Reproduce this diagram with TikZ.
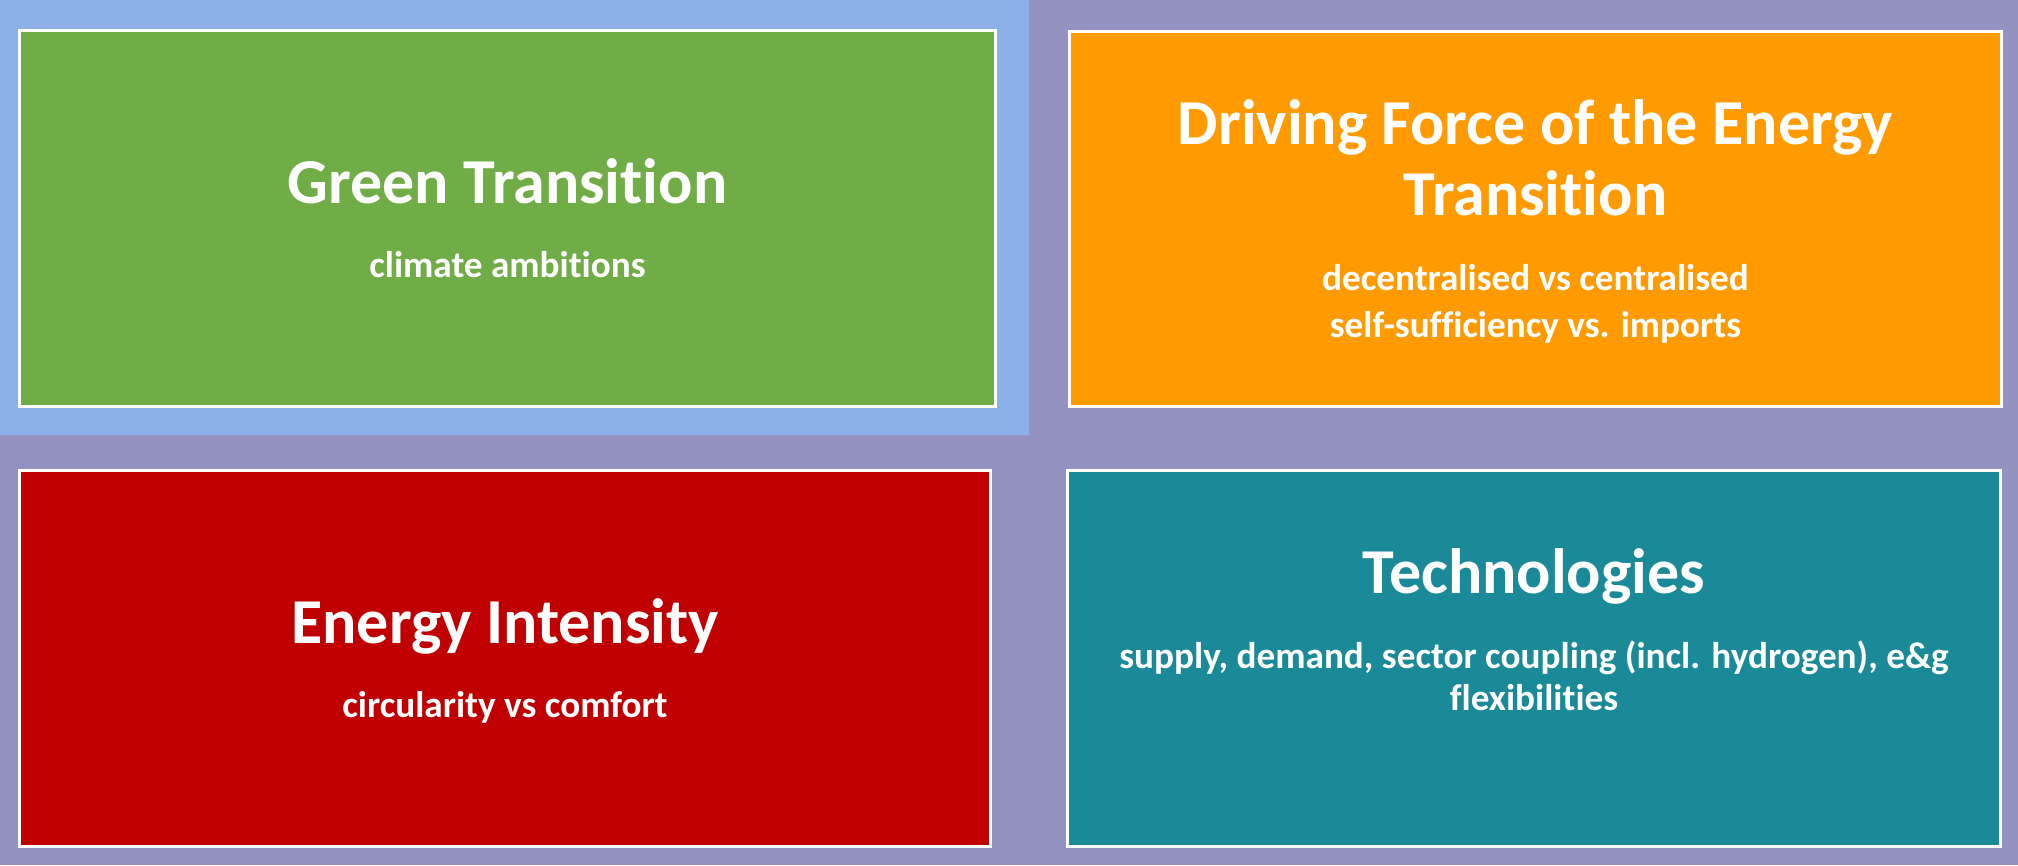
\documentclass[tikz,border=0pt]{standalone}
\usepackage{fontspec}
\setmainfont{Carlito}[Ligatures=NoCommon]
\definecolor{bgpurple}{HTML}{9492C0}
\definecolor{bgblue}{HTML}{8EB0E8}
\definecolor{cgreen}{HTML}{70AD47}
\definecolor{corange}{HTML}{FF9B00}
\definecolor{cred}{HTML}{C00000}
\definecolor{cteal}{HTML}{1A8A99}
\begin{document}
\begin{tikzpicture}[x=0.5bp,y=-0.5bp,
  panel/.style={draw=white,line width=1.5bp,inner sep=0pt},
  title/.style={text=white,anchor=base,inner sep=0pt,align=center,font=\bfseries\fontsize{32bp}{35.5bp}\selectfont},
  sub/.style={text=white,anchor=base,inner sep=0pt,align=center,font=\bfseries\fontsize{18.6bp}{23.5bp}\selectfont}]
\useasboundingbox (0,0) rectangle (2018,865);
\fill[bgpurple] (0,0) rectangle (2018,865);
\fill[bgblue] (0,0) rectangle (1029,435);
\node[panel,fill=cgreen,minimum width=488bp,minimum height=188bp] (green) at (507.5,218.5) {};
\node[panel,fill=corange,minimum width=466bp,minimum height=187.5bp] (orange) at (1535.5,219) {};
\node[panel,fill=cred,minimum width=485.5bp,minimum height=188bp] (red) at (505,658.5) {};
\node[panel,fill=cteal,minimum width=466.5bp,minimum height=188bp] (teal) at (1534,658.5) {};
\node[title] (gt) at (507.5,203) {Green Transition};
\node[sub] (gs) at (507.5,277) {climate ambitions};
\node[title] (ot) at (1535.5,215) {Driving Force of the Energy\\Transition};
\node[sub] (os) at (1535.5,337) {decentralised vs centralised\\self-sufficiency vs. imports};
\node[title] (rt) at (505,643) {Energy Intensity};
\node[sub] (rs) at (505,717) {circularity vs comfort};
\node[title] (tt) at (1534,593) {Technologies};
\node[sub,font=\bfseries\fontsize{18.6bp}{21bp}\selectfont] (ts) at (1534,710) {supply, demand, sector coupling (incl. hydrogen), e\&g\\flexibilities};
\end{tikzpicture}
\end{document}
